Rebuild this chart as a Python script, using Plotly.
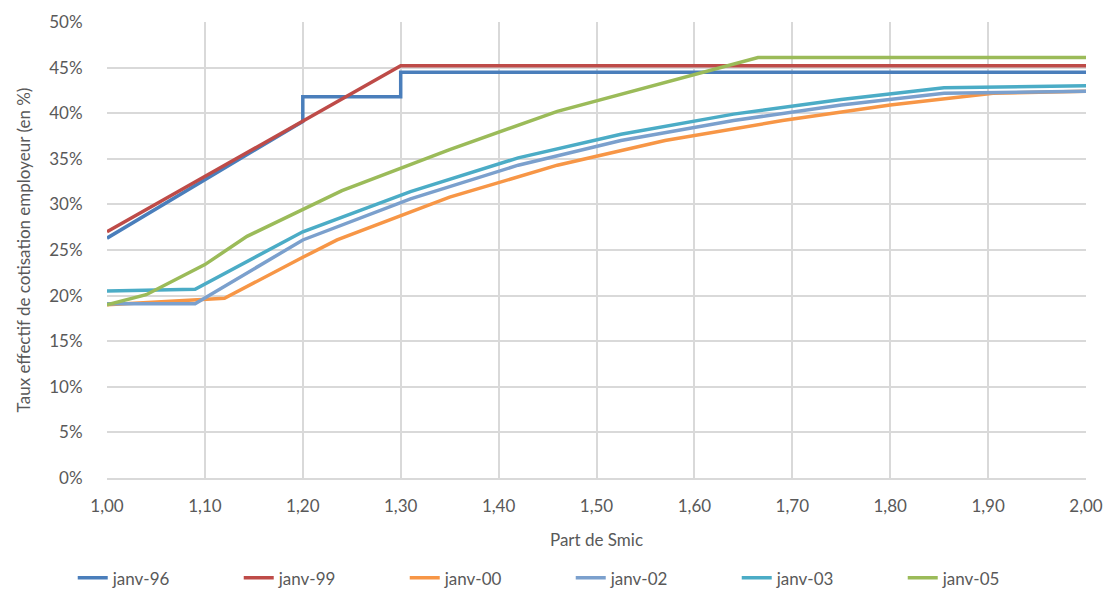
import plotly.graph_objects as go

# Data (Part de Smic -> taux effectif en %)
x96 = [1.00, 1.20, 1.20, 1.30, 1.30, 2.00]
y96 = [26.3, 39.1, 41.8, 41.8, 44.5, 44.5]

x99 = [1.00, 1.30, 2.00]
y99 = [27.0, 45.2, 45.2]

x00 = [1.00, 1.12, 1.20, 1.235, 1.35, 1.46, 1.57, 1.69, 1.80, 1.905, 2.00]
y00 = [19.0, 19.7, 24.2, 26.1, 30.8, 34.3, 37.0, 39.2, 40.9, 42.2, 42.4]

x02 = [1.00, 1.09, 1.20, 1.31, 1.42, 1.525, 1.64, 1.75, 1.855, 2.00]
y02 = [19.1, 19.1, 26.1, 30.6, 34.3, 37.0, 39.2, 40.9, 42.2, 42.4]

x03 = [1.00, 1.09, 1.20, 1.31, 1.42, 1.525, 1.64, 1.75, 1.855, 2.00]
y03 = [20.5, 20.7, 27.0, 31.4, 35.1, 37.7, 39.9, 41.5, 42.8, 43.0]

x05 = [1.00, 1.04, 1.10, 1.143, 1.24, 1.30, 1.35, 1.46, 1.57, 1.665, 2.00]
y05 = [19.0, 20.1, 23.4, 26.5, 31.5, 34.0, 36.0, 40.2, 43.4, 46.1, 46.1]

series = [
    ("janv-96", x96, y96, "#4A7EBB"),
    ("janv-99", x99, y99, "#BE4B48"),
    ("janv-00", x00, y00, "#F79646"),
    ("janv-02", x02, y02, "#7BA0CD"),
    ("janv-03", x03, y03, "#4BACC6"),
    ("janv-05", x05, y05, "#9BBB59"),
]

x_ticks = [round(1.0 + i * 0.1, 2) for i in range(11)]
x_labels = ["1,00", "1,10", "1,20", "1,30", "1,40", "1,50", "1,60", "1,70", "1,80", "1,90", "2,00"]
y_ticks = list(range(0, 55, 5))
y_labels = ["0%", "5%", "10%", "15%", "20%", "25%", "30%", "35%", "40%", "45%", "50%"]

FONT = "Lato, sans-serif"
GREY = "#595959"

fig = go.Figure()
for name, xs, ys, col in series:
    fig.add_trace(go.Scatter(x=xs, y=ys, mode="lines", name=name,
                             line=dict(color=col, width=3.5)))

fig.update_layout(
    width=1109, height=592,
    margin=dict(l=107, r=23, t=22, b=114, autoexpand=False),
    paper_bgcolor="white", plot_bgcolor="white",
    font=dict(family=FONT, size=17, color=GREY),
    showlegend=True,
    legend=dict(orientation="h", x=-0.035, xanchor="left", y=-0.22, yanchor="middle",
                font=dict(size=17, color=GREY), traceorder="normal",
                entrywidth=121, entrywidthmode="pixels"),
    xaxis=dict(range=[1.0, 2.0], tickvals=x_ticks, ticktext=x_labels, automargin=False,
               tickfont=dict(size=17, color=GREY),
               showgrid=True, gridcolor="#D9D9D9", gridwidth=1.5,
               showline=True, linecolor="#D9D9D9", linewidth=1.5,
               zeroline=False, ticks="outside", ticklen=12, tickcolor="rgba(0,0,0,0)",
               title=dict(text="Part de Smic", standoff=19,
                          font=dict(size=17, color=GREY))),
    yaxis=dict(range=[0, 50], tickvals=y_ticks, ticktext=y_labels, automargin=False,
               tickfont=dict(size=17, color=GREY),
               showgrid=True, gridcolor="#D9D9D9", gridwidth=1.5,
               showline=False, zeroline=False,
               ticks="outside", ticklen=20, tickcolor="rgba(0,0,0,0)",
               title=dict(text="Taux effectif de cotisation employeur (en %)", standoff=14,
                          font=dict(size=17, color=GREY))),
)

fig.write_html("out.html")
